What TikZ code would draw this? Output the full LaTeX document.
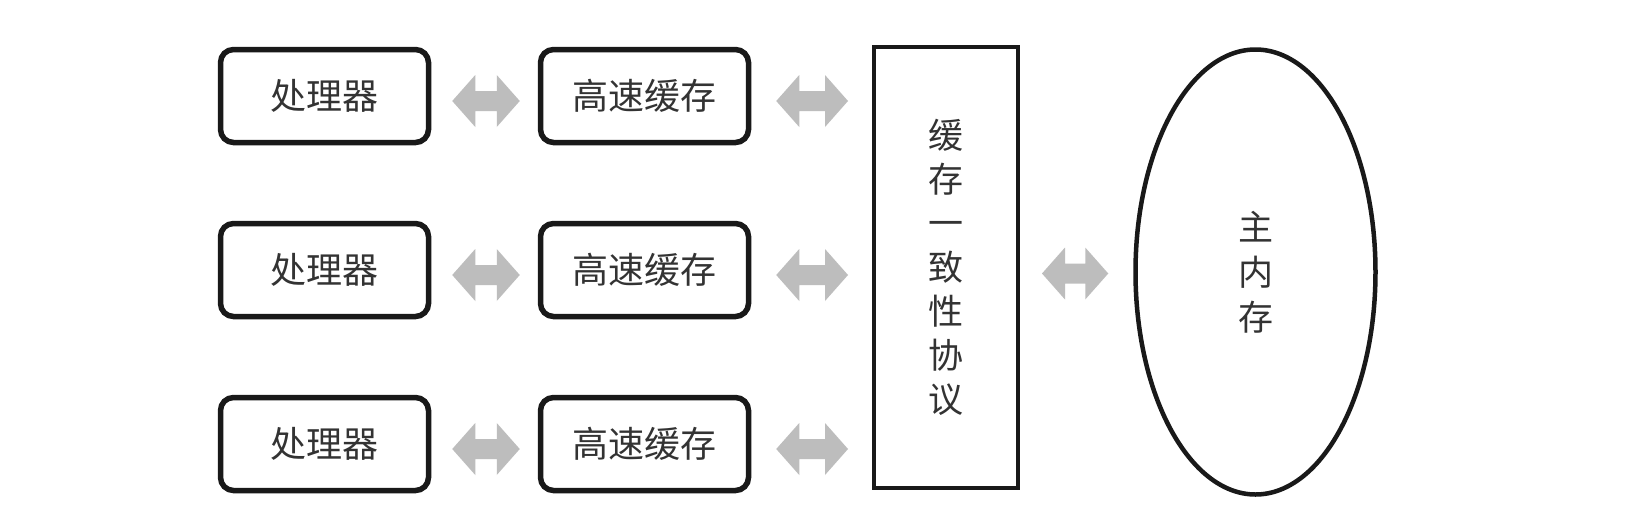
\documentclass[tikz,border=0pt]{standalone}
\usepackage{fontspec}
\setmainfont{Noto Sans CJK SC}
\usetikzlibrary{calc,shapes.geometric}
\tikzset{
  x=1pt,y=-1pt,
  box/.style={draw=black!90,line width=5.5pt,rounded corners=13pt,minimum width=208pt,minimum height=93pt,inner sep=0pt,font=\fontsize{36}{40}\selectfont,text=black!80},
  proto/.style={draw=black!90,line width=4pt,minimum width=144pt,minimum height=441pt,inner sep=0pt,align=center,font=\fontsize{35}{44}\selectfont,text=black!80},
  mem/.style={draw=black!90,ellipse,line width=4.5pt,minimum width=240pt,minimum height=445pt,inner sep=0pt,align=center,font=\fontsize{35}{45}\selectfont,text=black!80},
  arrowfill/.style={fill=black!26}
}
\newcommand{\fatarrow}[2]{%
  \fill[arrowfill] let \p1=(#1), \p2=(#2) in
    (\x1,\y1) -- (\x1+23pt,\y1+26pt) -- (\x1+23pt,\y1+10pt) -- (\x2-23pt,\y1+10pt)
    -- (\x2-23pt,\y1+26pt) -- (\x2,\y1) -- (\x2-23pt,\y1-26pt) -- (\x2-23pt,\y1-10pt)
    -- (\x1+23pt,\y1-10pt) -- (\x1+23pt,\y1-26pt) -- cycle;}
\begin{document}
\begin{tikzpicture}
\useasboundingbox (0,0) rectangle (1626,520);
\fill[white] (0,0) rectangle (1626,520);
\foreach \r/\yy in {1/96,2/270,3/444}{
  \node[box] (p\r) at (324.5,\yy) {处理器};
  \node[box] (c\r) at (644.5,\yy) {高速缓存};
}
\node[proto] (bus) at (946,267.5) {缓\\存\\一\\致\\性\\协\\议};
\node[mem] (mm) at (1255.5,272) {主\\内\\存};
\foreach \r in {1,2,3}{
  \fatarrow{$(p\r.east)+(21pt,-5pt)$}{$(c\r.west)+(-18pt,-5pt)$}
  \fatarrow{$(c\r.east)+(25pt,-5pt)$}{$(bus.west |- c\r.west)+(-24pt,-5pt)$}
}
\fatarrow{$(bus.east)+(22pt,-6pt)$}{$(mm.west)+(-25pt,-3pt)$}
\end{tikzpicture}
\end{document}
